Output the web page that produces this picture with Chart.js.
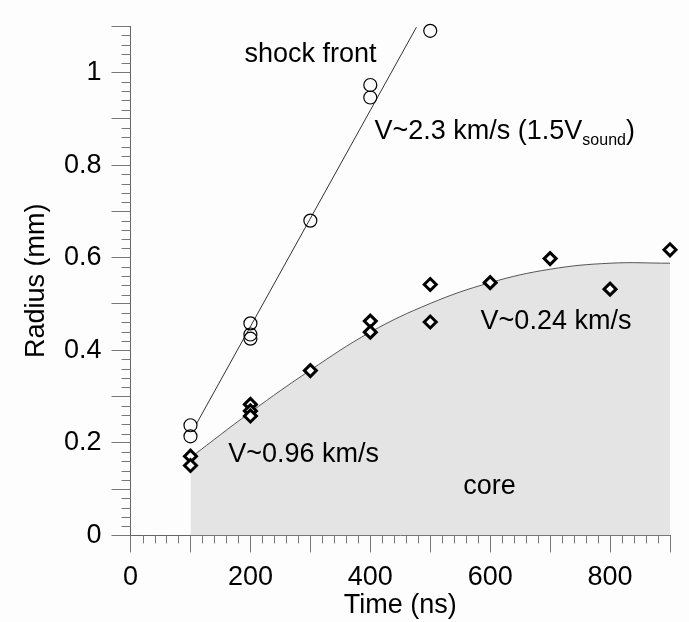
<!DOCTYPE html>
<html>
<head>
<meta charset="utf-8">
<script src="https://cdn.jsdelivr.net/npm/chart.js@4"></script>
<style>
  html, body { margin: 0; padding: 0; background: #fcfdfc; }
  #wrap { width: 689px; height: 622px; }
</style>
</head>
<body>
<div id="wrap"><canvas id="radiusChart"></canvas></div>
<script>
// shock front (open circles)
const shockTime   = [100, 100, 200, 200, 200, 300, 400, 400, 500];
const shockRadius = [0.238, 0.214, 0.458, 0.434, 0.425, 0.68, 0.973, 0.946, 1.09];
// linear fit through the shock front
const shockFitTime   = [110, 477];
const shockFitRadius = [0.241, 1.098];

// core (diamonds)
const coreTime   = [100, 100, 200, 200, 200, 300, 400, 400, 500, 500, 600, 700, 800, 900];
const coreRadius = [0.171, 0.151, 0.283, 0.269, 0.258, 0.356, 0.463, 0.439, 0.542, 0.461, 0.546, 0.598, 0.532, 0.617];
// smooth curve bounding the core
const coreFitTime   = [100, 200, 300, 400, 500, 600, 700, 800, 900];
const coreFitRadius = [0.168, 0.266, 0.357, 0.439, 0.501, 0.546, 0.575, 0.588, 0.588];

const xTickLabels = [0, 200, 400, 600, 800];
const yTickLabels = [0, 0.2, 0.4, 0.6, 0.8, 1];

// text notes: [text, time, radius]
const notes = [
  ['shock front', 190, 1.038],
  ['V~0.24 km/s', 584, 0.461],
  ['V~0.96 km/s', 163, 0.175],
  ['core', 555, 0.105]
];
const shockNote = {main: 'V~2.3 km/s (1.5V', sub: 'sound', tail: ')', t: 407, r: 0.873};

const FONT = '"Liberation Sans", Arial, sans-serif';
const FS = 27;

function pts(xs, ys){ return xs.map((x, i) => ({x: x, y: ys[i]})); }

function isLabel(v, list){ return list.some(l => Math.abs(l - v) < 1e-6); }

const minorTicks = {
  id: 'minorTicks',
  afterDraw(chart){
    const ctx = chart.ctx;
    const xs = chart.scales.x, ys = chart.scales.y;
    ctx.save();
    ctx.strokeStyle = '#777';
    ctx.lineWidth = 1;
    ctx.beginPath();
    for (let t = 0; t <= 900; t += 20){
      if (t % 100 === 0) continue;
      const px = Math.round(xs.getPixelForValue(t)) + 0.5;
      ctx.moveTo(px, ys.bottom);
      ctx.lineTo(px, ys.bottom + 8);
    }
    for (let k = 0; k <= 55; k++){
      if (k % 5 === 0) continue;
      const py = Math.round(ys.getPixelForValue(k * 0.02)) + 0.5;
      ctx.moveTo(xs.left, py);
      ctx.lineTo(xs.left - 9, py);
    }
    ctx.stroke();

    ctx.fillStyle = '#000';
    ctx.textBaseline = 'middle';
    ctx.textAlign = 'left';
    ctx.font = FS + 'px ' + FONT;
    notes.forEach(n => {
      ctx.fillText(n[0], xs.getPixelForValue(n[1]), ys.getPixelForValue(n[2]));
    });
    let x0 = xs.getPixelForValue(shockNote.t);
    const y0 = ys.getPixelForValue(shockNote.r);
    ctx.fillText(shockNote.main, x0, y0);
    x0 += ctx.measureText(shockNote.main).width;
    ctx.font = '16px ' + FONT;
    ctx.fillText(shockNote.sub, x0, y0 + 9);
    x0 += ctx.measureText(shockNote.sub).width;
    ctx.font = FS + 'px ' + FONT;
    ctx.fillText(shockNote.tail, x0, y0);
    ctx.restore();
  }
};

new Chart(document.getElementById('radiusChart'), {
  type: 'scatter',
  data: {
    datasets: [
      {
        type: 'line',
        data: pts(coreFitTime, coreFitRadius),
        borderColor: '#555',
        borderWidth: 1,
        backgroundColor: '#e4e4e4',
        fill: 'origin',
        pointRadius: 0,
        tension: 0.4,
        order: 4
      },
      {
        type: 'line',
        data: pts(shockFitTime, shockFitRadius),
        borderColor: '#333',
        borderWidth: 1,
        pointRadius: 0,
        fill: false,
        order: 3
      },
      {
        data: pts(coreTime, coreRadius),
        pointStyle: 'rectRot',
        pointRadius: 6,
        borderWidth: 3,
        borderColor: '#000',
        backgroundColor: '#fff',
        clip: 10,
        order: 2
      },
      {
        data: pts(shockTime, shockRadius),
        pointStyle: 'circle',
        pointRadius: 6.5,
        borderWidth: 1.2,
        borderColor: '#000',
        backgroundColor: 'rgba(0,0,0,0)',
        clip: 10,
        order: 1
      }
    ]
  },
  options: {
    responsive: true,
    maintainAspectRatio: false,
    animation: false,
    layout: { padding: { left: 10, right: 19, top: 23.5, bottom: 0 } },
    plugins: { legend: { display: false }, tooltip: { enabled: false } },
    scales: {
      x: {
        type: 'linear',
        min: 0, max: 900,
        ticks: {
          stepSize: 100,
          padding: 14,
          color: '#000',
          font: { family: FONT, size: FS, lineHeight: 0.8 },
          maxRotation: 0,
          autoSkip: false,
          callback: v => isLabel(v, xTickLabels) ? String(v) : ''
        },
        grid: { drawOnChartArea: false, drawTicks: true, tickLength: 17, color: '#777' },
        border: { display: true, color: '#666', width: 1 },
        title: { display: true, text: 'Time (ns)', color: '#000', font: { family: FONT, size: FS, lineHeight: 1.0 }, padding: { top: -10, bottom: 3 } }
      },
      y: {
        type: 'linear',
        min: 0, max: 1.1,
        ticks: {
          stepSize: 0.1,
          padding: 10,
          color: '#000',
          font: { family: FONT, size: FS },
          autoSkip: false,
          callback: v => isLabel(v, yTickLabels) ? String(Math.round(v * 10) / 10) : ''
        },
        grid: { drawOnChartArea: false, drawTicks: true, tickLength: 19, color: '#777' },
        border: { display: true, color: '#666', width: 1 },
        title: { display: true, text: 'Radius (mm)', color: '#000', font: { family: FONT, size: FS, lineHeight: 1.0 }, padding: { top: 13, bottom: 4 } }
      }
    }
  },
  plugins: [minorTicks]
});
</script>
</body>
</html>
